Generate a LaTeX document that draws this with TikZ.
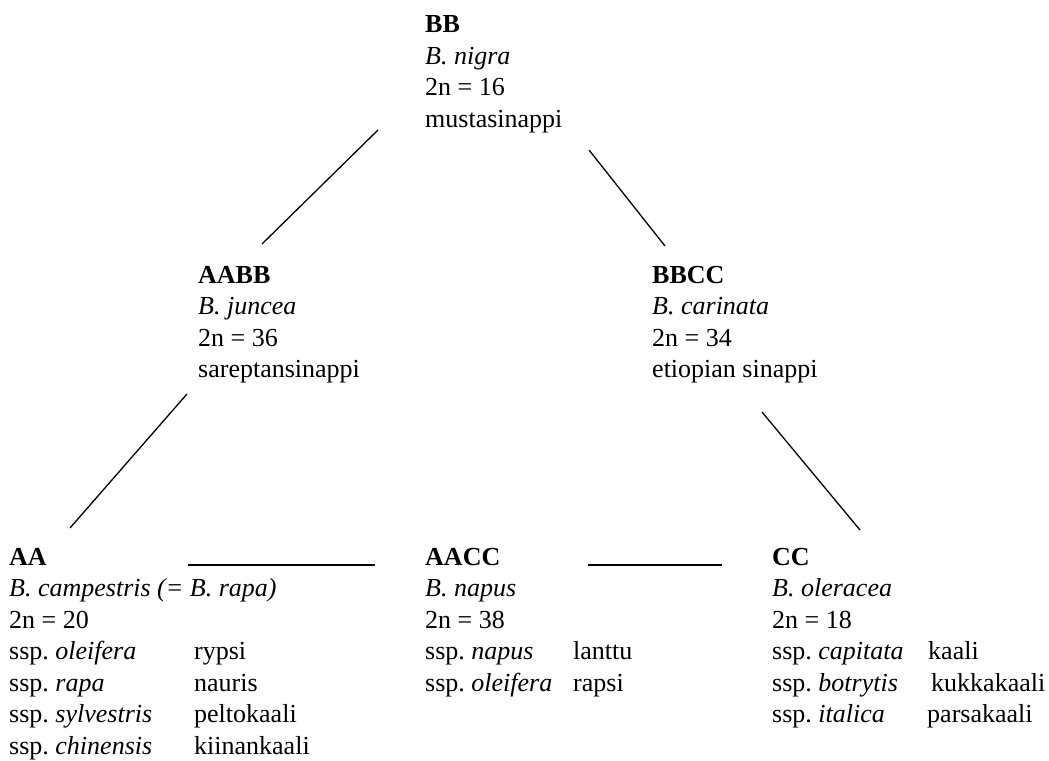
\documentclass[tikz,border=0pt]{standalone}
\usepackage{fontspec}
\setmainfont{Liberation Serif}
\frenchspacing
\newcommand{\ssprow}[3]{\makebox[#1][l]{ssp. \textit{#2}}#3}

\begin{document}
\begin{tikzpicture}[x=1pt,y=-1pt,
    species/.style ={anchor=base west, inner sep=0pt, font=\fontsize{26}{31.5}\selectfont},
    cross/.style ={line width=1.3pt}]
   \useasboundingbox (0,0) rectangle (1049,760);

   \node[species] (BB) at (425,33) {\begin{tabular}[t]{@{}l@{}}
     \textbf{BB}\\ \textit{B. nigra}\\ 2n = 16\\ mustasinappi\end{tabular}};
   \node[species] (AABB) at (198,283) {\begin{tabular}[t]{@{}l@{}}
     \textbf{AABB}\\ \textit{B. juncea}\\ 2n = 36\\ sareptansinappi\end{tabular}};
   \node[species] (BBCC) at (652,283) {\begin{tabular}[t]{@{}l@{}}
     \textbf{BBCC}\\ \textit{B. carinata}\\ 2n = 34\\ etiopian sinappi\end{tabular}};
   \node[species] (AA) at (9,565) {\begin{tabular}[t]{@{}l@{}}
     \textbf{AA}\\ \textit{B. campestris (= B. rapa)}\\ 2n = 20\\
     \ssprow{185pt}{oleifera}{rypsi}\\
     \ssprow{185pt}{rapa}{nauris}\\
     \ssprow{185pt}{sylvestris}{peltokaali}\\
     \ssprow{185pt}{chinensis}{kiinankaali}\end{tabular}};
   \node[species] (AACC) at (425,565) {\begin{tabular}[t]{@{}l@{}}
     \textbf{AACC}\\ \textit{B. napus}\\ 2n = 38\\
     \ssprow{148pt}{napus}{lanttu}\\
     \ssprow{148pt}{oleifera}{rapsi}\end{tabular}};
   \node[species] (CC) at (772,565) {\begin{tabular}[t]{@{}l@{}}
     \textbf{CC}\\ \textit{B. oleracea}\\ 2n = 18\\
     \ssprow{156pt}{capitata}{kaali}\\
     \ssprow{159pt}{botrytis}{kukkakaali}\\
     \ssprow{155pt}{italica}{parsakaali}\end{tabular}};

   \coordinate (BBsw) at (378,130);
   \coordinate (AABBn) at (262,244);
   \coordinate (BBse) at (589,150);
   \coordinate (BBCCn) at (665,246);
   \coordinate (AABBs) at (187,394);
   \coordinate (AAn) at (70,528);
   \coordinate (BBCCs) at (762,412);
   \coordinate (CCn) at (860,530);
   \coordinate (AAe) at (188,565);
   \coordinate (AACCw) at (375,565);
   \coordinate (AACCe) at (588,565);
   \coordinate (CCw) at (722,565);

   \draw[cross] (BBsw) to (AABBn);
   \draw[cross] (BBse) to (BBCCn);
   \draw[cross] (AABBs) to (AAn);
   \draw[cross] (BBCCs) to (CCn);
   \draw[cross] (AAe) to (AACCw);
   \draw[cross] (AACCe) to (CCw);
\end{tikzpicture}
\end{document}
